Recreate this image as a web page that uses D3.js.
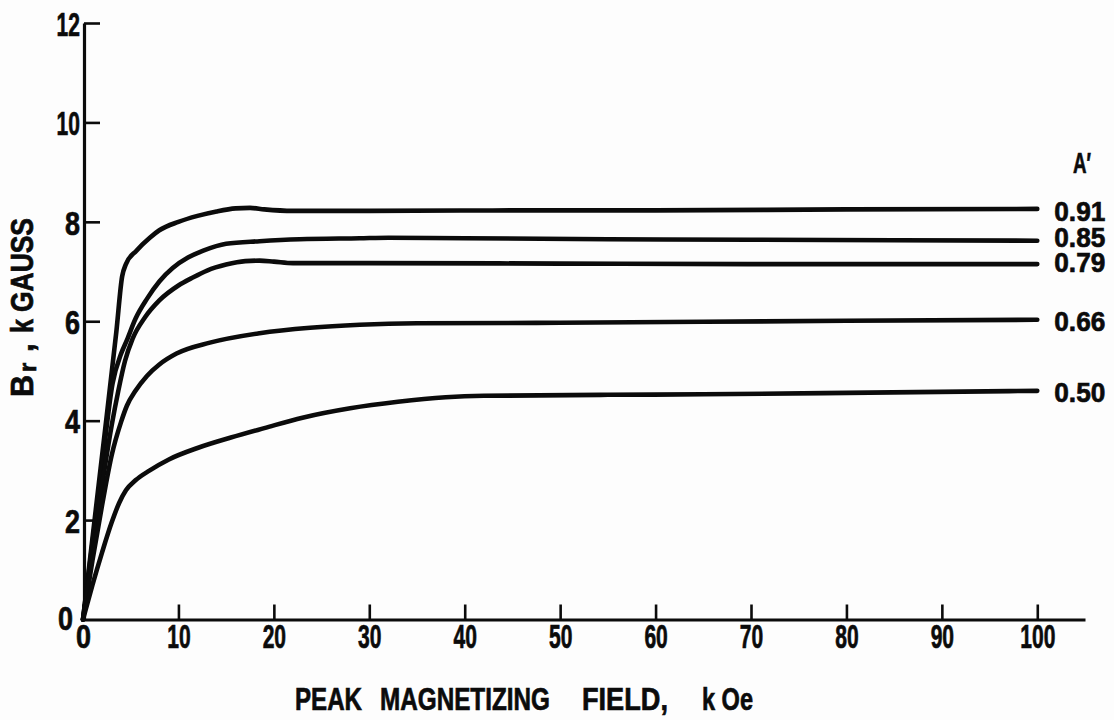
<!DOCTYPE html>
<html>
<head>
<meta charset="utf-8">
<script src="https://cdn.jsdelivr.net/npm/d3@7"></script>
<style>
  html, body { margin: 0; padding: 0; background: #fdfdfd; }
  svg { display: block; }
  text { font-family: "Liberation Sans Narrow", "Liberation Sans", Arial, sans-serif; font-weight: bold; fill: #0b0b0b; stroke: #0b0b0b; stroke-width: 0.7px; }
</style>
</head>
<body>
<svg id="chart" width="1114" height="720"></svg>
<script>
// Remanent induction Br (kG) versus peak magnetizing field (kOe), one curve per packing fraction A'
const fieldA091 = [0, 2, 3.5, 4.1, 4.5, 5.6, 7, 8, 10, 12, 14, 16, 17.5, 19, 22, 30, 45, 60, 80, 100];
const brA091    = [0, 3.3, 5.8, 6.9, 7.15, 7.42, 7.68, 7.83, 8.0, 8.12, 8.21, 8.27, 8.28, 8.25, 8.22, 8.22, 8.23, 8.23, 8.25, 8.26];

const fieldA085 = [0, 1, 2, 3.1, 4, 4.6, 5.5, 6.7, 8, 9.4, 11, 12.6, 15, 18.5, 22.7, 29, 32, 40, 55, 70, 100];
const brA085    = [0, 1.55, 3.1, 4.75, 5.35, 5.62, 6.05, 6.45, 6.8, 7.07, 7.28, 7.42, 7.56, 7.61, 7.65, 7.67, 7.68, 7.67, 7.65, 7.64, 7.62];

const fieldA079 = [0, 1, 2, 3, 3.7, 4.4, 5.2, 6.5, 8, 10, 11.5, 13, 15, 17, 18.5, 20, 22, 30, 50, 70, 100];
const brA079    = [0, 1.35, 2.7, 3.9, 4.6, 5.2, 5.65, 6.08, 6.42, 6.72, 6.88, 7.02, 7.14, 7.21, 7.22, 7.2, 7.17, 7.17, 7.16, 7.15, 7.15];

const fieldA066 = [0, 1, 2, 3, 4, 4.6, 5.5, 6.7, 8, 9.8, 13.3, 18.5, 23.8, 29, 35, 50, 65, 80, 100];
const brA066    = [0, 1.2, 2.3, 3.3, 3.98, 4.3, 4.6, 4.9, 5.13, 5.35, 5.57, 5.76, 5.87, 5.93, 5.96, 5.97, 5.99, 6.01, 6.03];

const fieldA050 = [0, 1, 2, 3, 3.8, 4.5, 5.5, 7, 9, 12, 15.5, 19, 23, 28, 33, 38, 42, 55, 65, 80, 100];
const brA050    = [0, 0.7, 1.35, 1.95, 2.35, 2.6, 2.8, 3.0, 3.22, 3.45, 3.66, 3.85, 4.06, 4.25, 4.38, 4.47, 4.5, 4.52, 4.53, 4.56, 4.6];

const seriesNames = ["0.91", "0.85", "0.79", "0.66", "0.50"];
const xTicks = [0, 10, 20, 30, 40, 50, 60, 70, 80, 90, 100];
const yTicks = [0, 2, 4, 6, 8, 10, 12];
const xTitle = ["PEAK", "MAGNETIZING", "FIELD,", "k Oe"];
const legendTitle = "A\u2032";

const series = [
  { name: seriesNames[0], x: fieldA091, y: brA091 },
  { name: seriesNames[1], x: fieldA085, y: brA085 },
  { name: seriesNames[2], x: fieldA079, y: brA079 },
  { name: seriesNames[3], x: fieldA066, y: brA066 },
  { name: seriesNames[4], x: fieldA050, y: brA050 }
].map(s => ({ name: s.name, points: s.x.map((v, i) => [v, s.y[i]]) }));

// label nudges so the end labels sit clear of each other
const labelNudge = { "0.91": 2, "0.85": -4, "0.79": -2, "0.66": 1, "0.50": 1 };

const ink = "#0b0b0b";
const svg = d3.select("#chart");

const x = d3.scaleLinear().domain([0, 105]).range([83, 1085]);
const y = d3.scaleLinear().domain([0, 12]).range([619.5, 23]);

// squeeze a text horizontally to a given width, anchored at (px, py)
function fitWidth(sel, px, py, width, anchor) {
  sel.each(function () {
    const t = d3.select(this).attr("x", 0).attr("y", 0);
    const natural = this.getComputedTextLength() || width;
    const sx = width / natural;
    t.attr("text-anchor", anchor || "start")
     .attr("transform", `translate(${px},${py}) scale(${sx},1)`);
  });
}

// width helper for the narrow lettering of the tick numerals
const numWidth = s => s.length === 1 ? 15 : s.length * 11.7;

// x axis: ticks point up into the plot
const gx = svg.append("g")
  .attr("transform", `translate(0,${y(0)})`)
  .call(d3.axisBottom(x).tickValues(xTicks).tickSize(-15).tickSizeOuter(0).tickPadding(5).tickFormat(d3.format("d")));
gx.attr("font-family", null).attr("font-size", null);
gx.select(".domain").attr("stroke", ink).attr("stroke-width", 3.2);
gx.selectAll(".tick line").attr("stroke", ink).attr("stroke-width", 2.6);
gx.selectAll(".tick text")
  .attr("font-size", 33)
  .attr("fill", ink)
  .attr("textLength", d => numWidth(String(d)))
  .attr("lengthAdjust", "spacingAndGlyphs");

// y axis: ticks point right into the plot
const gy = svg.append("g")
  .attr("transform", "translate(84,0)")
  .call(d3.axisLeft(y).tickValues(yTicks).tickSize(-16).tickSizeOuter(0).tickPadding(4).tickFormat(d3.format("d")));
gy.attr("font-family", null).attr("font-size", null);
gy.select(".domain").attr("stroke", ink).attr("stroke-width", 3.2);
gy.selectAll(".tick line").attr("stroke", ink).attr("stroke-width", 2.6);
gy.selectAll(".tick line").filter(d => d === 0).remove();
gy.selectAll(".tick text")
  .attr("font-size", 34)
  .attr("fill", ink)
  .attr("dy", "0.36em")
  .attr("textLength", d => numWidth(String(d)))
  .attr("lengthAdjust", "spacingAndGlyphs");
// the zero of the vertical scale sits up and left of the corner
gy.selectAll(".tick text").filter(d => d === 0).attr("x", -11).attr("dy", "0.28em");

// curves
const line = d3.line()
  .x(d => x(d[0]))
  .y(d => y(d[1]))
  .curve(d3.curveMonotoneX);

svg.append("g")
  .selectAll("path")
  .data(series)
  .join("path")
  .attr("d", d => line(d.points))
  .attr("fill", "none")
  .attr("stroke", ink)
  .attr("stroke-width", 4.6)
  .attr("stroke-linecap", "round")
  .attr("stroke-linejoin", "round");

// end labels
svg.append("g")
  .selectAll("text")
  .data(series)
  .join("text")
  .attr("x", d => x(d.points[d.points.length - 1][0]) + 17)
  .attr("y", d => y(d.points[d.points.length - 1][1]) + 10 + labelNudge[d.name])
  .attr("font-size", 28)
  .attr("textLength", 51)
  .attr("lengthAdjust", "spacingAndGlyphs")
  .text(d => d.name);

svg.append("text")
  .attr("x", 1073)
  .attr("y", 173)
  .attr("font-size", 30)
  .attr("textLength", 18)
  .attr("lengthAdjust", "spacingAndGlyphs")
  .text(legendTitle);

// x axis title, set in widely spaced words
const titleX = [295, 380, 582, 702];
const titleW = [67, 170, 86, 51];
svg.append("g")
  .selectAll("text")
  .data(xTitle)
  .join("text")
  .attr("font-size", 32)
  .text(d => d)
  .each(function (d, i) { fitWidth(d3.select(this), titleX[i], 710, titleW[i]); });

// y axis title: B with subscript r, k GAUSS
const yt = svg.append("text")
  .attr("transform", "translate(33,397) rotate(-90)")
  .attr("font-size", 31);
yt.append("tspan").attr("x", 0).attr("textLength", 22).attr("lengthAdjust", "spacingAndGlyphs").text("B");
yt.append("tspan").attr("x", 25).attr("dy", 3).attr("font-size", 24).text("r");
yt.append("tspan").attr("x", 45).attr("dy", -3).text(",");
yt.append("tspan").attr("x", 64).attr("textLength", 14).attr("lengthAdjust", "spacingAndGlyphs").text("k");
yt.append("tspan").attr("x", 85).attr("textLength", 94).attr("lengthAdjust", "spacingAndGlyphs").text("GAUSS");
</script>
</body>
</html>
